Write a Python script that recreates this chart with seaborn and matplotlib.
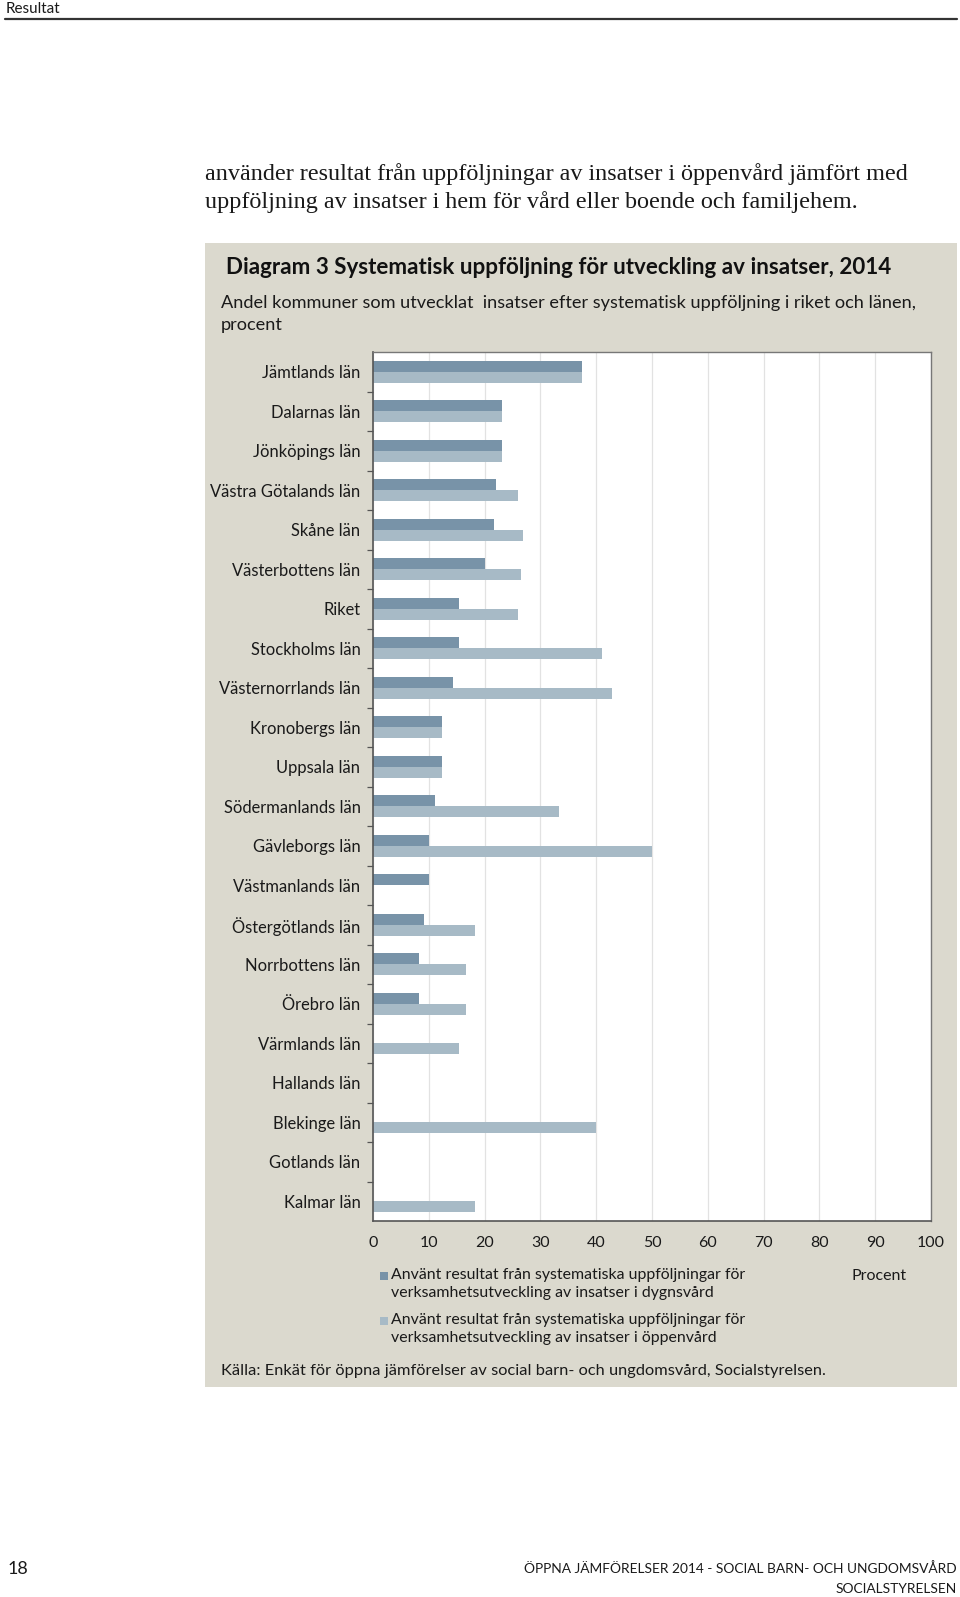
import matplotlib
matplotlib.use("Agg")
import matplotlib.pyplot as plt
from matplotlib.patches import Rectangle
from matplotlib.lines import Line2D
import seaborn as sns
import pandas as pd
import numpy as np

# ---------------- data ----------------
regions = ["Jämtlands län", "Dalarnas län", "Jönköpings län", "Västra Götalands län",
           "Skåne län", "Västerbottens län", "Riket", "Stockholms län",
           "Västernorrlands län", "Kronobergs län", "Uppsala län", "Södermanlands län",
           "Gävleborgs län", "Västmanlands län", "Östergötlands län", "Norrbottens län",
           "Örebro län", "Värmlands län", "Hallands län", "Blekinge län",
           "Gotlands län", "Kalmar län"]
dygnsvard = [37.5, 23.1, 23.1, 22.1, 21.6, 20.0, 15.5, 15.4, 14.3, 12.4, 12.4, 11.1,
             10.0, 10.0, 9.1, 8.3, 8.3, 0, 0, 0, 0, 0]
oppenvard = [37.5, 23.1, 23.1, 25.9, 26.9, 26.6, 25.9, 41.0, 42.8, 12.4, 12.4, 33.3,
             50.0, 0, 18.2, 16.6, 16.6, 15.4, 0, 40.0, 0, 18.2]
series_labels = ["Använt resultat från systematiska uppföljningar för\nverksamhetsutveckling av insatser i dygnsvård",
                 "Använt resultat från systematiska uppföljningar för\nverksamhetsutveckling av insatser i öppenvård"]
x_ticks = list(range(0, 101, 10))

df = pd.DataFrame({
    "region": regions * 2,
    "value": dygnsvard + oppenvard,
    "serie": [series_labels[0]] * len(regions) + [series_labels[1]] * len(regions),
})

# ---------------- style ----------------
W, H = 960, 1597
sns.set_theme(style="white")
FONT = ["Lato", "DejaVu Sans"]
plt.rcParams["font.family"] = FONT

PANEL = "#dbd9ce"
DARK = "#7893a8"
LIGHT = "#a7bac6"
TXT = "#1a1a1a"

fig = plt.figure(figsize=(W / 100, H / 100), dpi=100)
fig.patch.set_facecolor("white")

def fx(x):
    return x / W

def fy(y):
    return 1 - y / H

# grey panel
fig.patches.append(Rectangle((fx(205), fy(1387)), fx(957) - fx(205), fy(243) - fy(1387),
                             transform=fig.transFigure, facecolor=PANEL, edgecolor="none", zorder=-10))

# header
fig.text(fx(6), fy(9), "Resultat", fontsize=11, color=TXT, va="center", ha="left")
fig.add_artist(Line2D([fx(5), fx(957)], [fy(19), fy(19)], transform=fig.transFigure,
                      color="#333333", linewidth=1.6))

# body text (serif)
fig.text(fx(205), fy(174), "använder resultat från uppföljningar av insatser i öppenvård jämfört med",
         fontsize=17.4, family="Liberation Serif", color=TXT, va="center", ha="left")
fig.text(fx(205), fy(202), "uppföljning av insatser i hem för vård eller boende och familjehem.",
         fontsize=17.4, family="Liberation Serif", color=TXT, va="center", ha="left")

# titles
fig.text(fx(226), fy(268), "Diagram 3 Systematisk uppföljning för utveckling av insatser, 2014",
         fontsize=16.1, fontweight="bold", color="#111111", va="center", ha="left")
fig.text(fx(221), fy(303), "Andel kommuner som utvecklat  insatser efter systematisk uppföljning i riket och länen,",
         fontsize=13.1, color=TXT, va="center", ha="left")
fig.text(fx(221), fy(325), "procent", fontsize=13.1, color=TXT, va="center", ha="left")

# ---------------- chart ----------------
ax = fig.add_axes([fx(373), fy(1221), fx(931) - fx(373), fy(352) - fy(1221)])
ax.set_zorder(5)
ax.set_facecolor("white")
sns.barplot(data=df, y="region", x="value", hue="serie", orient="h",
            palette=[DARK, LIGHT], width=0.56, saturation=1, legend=False,
            linewidth=0, ax=ax)
ax.set_xlim(0, 100)
ax.set_ylim(len(regions) - 0.5, -0.5)
ax.set_xticks(x_ticks)
ax.set_xticklabels([str(t) for t in x_ticks])
ax.set_xlabel("")
ax.set_ylabel("")
ax.grid(axis="x", color="#e2e2e2", linewidth=0.9)
ax.set_axisbelow(True)
ax.tick_params(axis="x", length=0, pad=11, labelsize=11.5, labelcolor=TXT)
ax.tick_params(axis="y", which="major", length=0, pad=9, labelsize=11.9, labelcolor=TXT)
ax.set_yticks(np.arange(0.5, len(regions) - 0.5, 1), minor=True)
ax.tick_params(axis="y", which="minor", length=4, width=0.9, color="#555555", direction="out", left=True)
for side in ["left", "bottom"]:
    ax.spines[side].set_color("#555555")
    ax.spines[side].set_linewidth(1.2)
for side in ["top", "right"]:
    ax.spines[side].set_color("#777777")
    ax.spines[side].set_linewidth(1.0)
    ax.spines[side].set_visible(True)

# legend
leg_y = [1277, 1322]
for i, (lab, col) in enumerate(zip(series_labels, [DARK, LIGHT])):
    fig.patches.append(Rectangle((fx(380), fy(leg_y[i] + 3)), fx(8), fy(0) - fy(8),
                                 transform=fig.transFigure, facecolor=col, edgecolor="none"))
    fig.text(fx(391), fy(leg_y[i] - 9), lab, fontsize=11.4, color=TXT, va="top", ha="left",
             linespacing=1.36)
fig.text(fx(879), fy(1276), "Procent", fontsize=11.5, color=TXT, va="center", ha="center")

# source
fig.text(fx(221), fy(1371), "Källa: Enkät för öppna jämförelser av social barn- och ungdomsvård, Socialstyrelsen.",
         fontsize=11.75, color=TXT, va="center", ha="left")

# footer
fig.text(fx(8), fy(1569), "18", fontsize=13, color=TXT, va="center", ha="left")
fig.text(fx(957), fy(1569), "ÖPPNA JÄMFÖRELSER 2014 - SOCIAL BARN- OCH UNGDOMSVÅRD",
         fontsize=9.9, color=TXT, va="center", ha="right")
fig.text(fx(957), fy(1589), "SOCIALSTYRELSEN", fontsize=9.9, color=TXT, va="center", ha="right")

fig.savefig("out.png", dpi=100, facecolor="white")
